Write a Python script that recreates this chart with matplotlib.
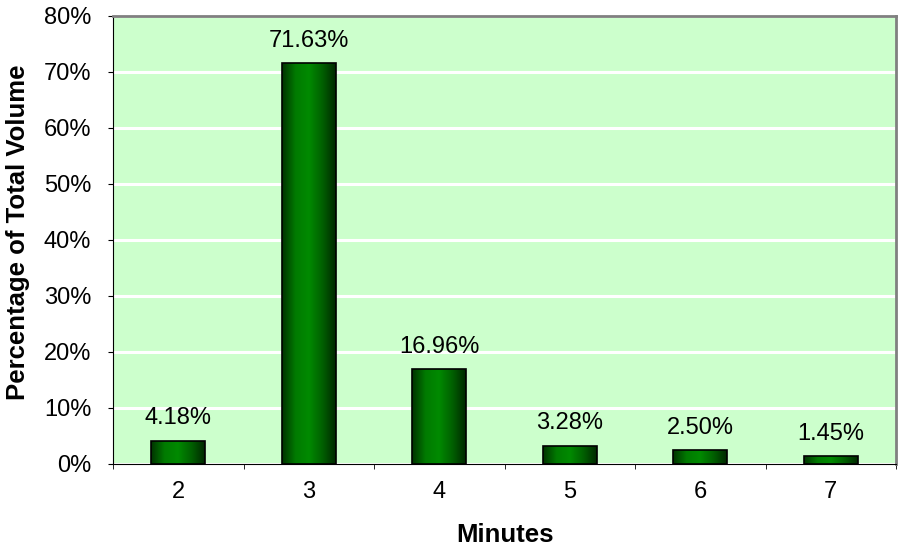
import numpy as np
import matplotlib
import matplotlib.pyplot as plt
from matplotlib.colors import LinearSegmentedColormap

matplotlib.use('Agg')

minutes = ["2", "3", "4", "5", "6", "7"]
pct = [4.18, 71.63, 16.96, 3.28, 2.50, 1.45]
yticks = [0, 10, 20, 30, 40, 50, 60, 70, 80]

plt.rcParams['font.family'] = ['Liberation Sans', 'DejaVu Sans']

fig = plt.figure(figsize=(9, 5.52), dpi=100)
ax = fig.add_axes([113 / 900, 1 - 464 / 552, 783 / 900, 448 / 552])
ax.set_facecolor("#CCFFCC")

x = np.arange(len(minutes))
bars = ax.bar(x, pct, width=0.41, color="none", edgecolor="black", linewidth=1.2, zorder=3)

# horizontal gradient inside each bar (dark edges, bright middle)
cmap = LinearSegmentedColormap.from_list("g", ["#003300", "#007a00", "#008a00", "#006000", "#002800"])
grad = np.linspace(0, 1, 256).reshape(1, -1)
for b in bars:
    im = ax.imshow(grad, cmap=cmap, aspect="auto", zorder=2,
                   extent=[b.get_x(), b.get_x() + b.get_width(), 0, b.get_height()])
    im.set_clip_path(b)

for xi, v in zip(x, pct):
    ax.text(xi, v + 2.0, f"{v:.2f}%", ha="center", va="bottom", fontsize=17)

ax.set_xlim(-0.5, len(minutes) - 0.5)
ax.set_ylim(0, 80)
ax.set_yticks(yticks)
ax.set_yticklabels([f"{t}%" for t in yticks], fontsize=17)
ax.set_xticks(x)
ax.set_xticklabels(minutes, fontsize=17)
ax.set_xticks(np.arange(len(minutes) + 1) - 0.5, minor=True)
ax.tick_params(axis="x", which="major", length=0, pad=12)
ax.tick_params(axis="x", which="minor", length=3.6, direction="out")
ax.tick_params(axis="y", length=3.6, direction="out", pad=12)

ax.grid(axis="y", color="white", linewidth=2.2, zorder=1)
ax.set_axisbelow(True)

for s in ["top", "right"]:
    ax.spines[s].set_color("#808080")
    ax.spines[s].set_linewidth(2)
ax.spines["left"].set_color("black")
ax.spines["bottom"].set_color("black")

ax.set_xlabel("Minutes", fontsize=18.5, fontweight="bold")
ax.xaxis.set_label_coords(0.5, -59 / 448, transform=ax.transAxes)
ax.set_ylabel("Percentage of Total Volume", fontsize=18.5, fontweight="bold")
ax.yaxis.set_label_coords(-83 / 783, 0.518, transform=ax.transAxes)

fig.savefig("out.png", dpi=100)
